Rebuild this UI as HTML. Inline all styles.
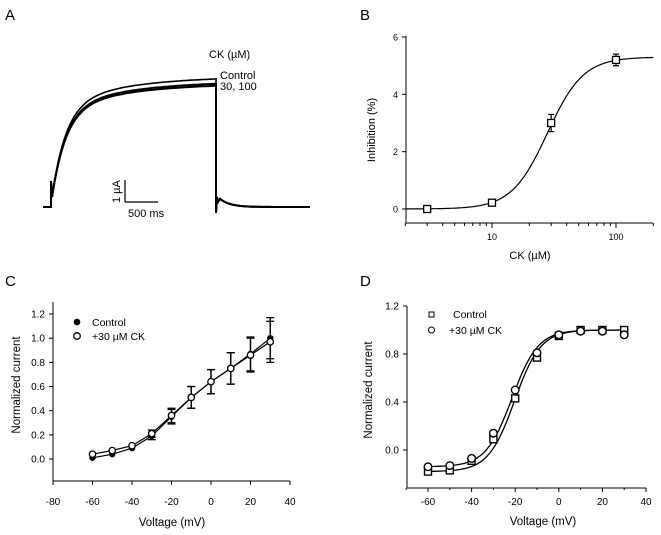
<!DOCTYPE html>
<html><head><meta charset="utf-8"><style>
html,body{margin:0;padding:0;background:#fff;}
svg{display:block;font-family:"Liberation Sans",Arial,sans-serif;}
</style></head><body>
<svg id="fig" width="661" height="535" viewBox="0 0 661 535" xmlns="http://www.w3.org/2000/svg">
<g>
<text x="5" y="20" font-size="15">A</text>
<g id="traces"></g>
<line x1="125" y1="180" x2="125" y2="202" stroke="#000" stroke-width="1.2"/>
<line x1="125" y1="202" x2="158" y2="202" stroke="#000" stroke-width="1.2"/>
<text x="0" y="0" font-size="11" transform="translate(120,203) rotate(-90)">1 µA</text>
<text x="128" y="217" font-size="11">500 ms</text>
<text x="209" y="58" font-size="11">CK (µM)</text>
<text x="220" y="79" font-size="11">Control</text>
<text x="220" y="90" font-size="11">30, 100</text>
</g>
<g id="pb">
<text x="360" y="20" font-size="15">B</text>
</g>
<g id="pc">
<text x="5" y="286" font-size="15">C</text>
</g>
<g id="pd">
<text x="360" y="286" font-size="15">D</text>
</g>
</svg>
<script>
// ---- Panel B data ----
const bConc = [3, 10, 30, 100];
const bInhib = [0.0, 0.22, 3.0, 5.2];
const bErr = [0.05, 0.05, 0.3, 0.2];
const bYTicks = [0, 2, 4, 6];
const bXTicks = [10, 100];
const bFit = {max: 5.3, ic50: 28, n: 3};
// ---- Panel C data ----
const cVolt = [-60, -50, -40, -30, -20, -10, 0, 10, 20, 30];
const cControl = [0.01, 0.04, 0.09, 0.19, 0.35, 0.51, 0.64, 0.75, 0.87, 1.00];
const cCK = [0.04, 0.07, 0.11, 0.21, 0.36, 0.51, 0.64, 0.75, 0.86, 0.97];
const cErr = [0.01, 0.01, 0.01, 0.03, 0.06, 0.09, 0.10, 0.13, 0.14, 0.17];
const cXTicks = [-80, -60, -40, -20, 0, 20, 40];
const cYTicks = [0.0, 0.2, 0.4, 0.6, 0.8, 1.0, 1.2];
// ---- Panel D data ----
const dVolt = [-60, -50, -40, -30, -20, -10, 0, 10, 20, 30];
const dControl = [-0.18, -0.17, -0.09, 0.09, 0.43, 0.77, 0.95, 1.00, 1.00, 1.00];
const dCK = [-0.14, -0.13, -0.07, 0.14, 0.50, 0.81, 0.96, 0.99, 0.99, 0.96];
const dXTicks = [-60, -40, -20, 0, 20, 40];
const dYTicks = [0.0, 0.4, 0.8, 1.2];
const dFitControl = {bottom: -0.18, top: 1.0, v50: -20.3, k: 6};
const dFitCK = {bottom: -0.14, top: 1.0, v50: -21.5, k: 6};

const NS = "http://www.w3.org/2000/svg";
function mk(parent, tag, attrs, text){
  const e = document.createElementNS(NS, tag);
  for (const k in attrs) e.setAttribute(k, attrs[k]);
  if (text !== undefined) e.textContent = text;
  parent.appendChild(e);
  return e;
}

// ---- Panel A traces ----
(function(){
  const g = document.getElementById('traces');
  function trace(amp, w){
    let d = "M43,207 L51,207 L51,181 L52,197";
    for (let x = 52; x <= 216; x += 2){
      const t = x - 52;
      const f = 0.75*(1-Math.exp(-t/14)) + 0.25*(1-Math.exp(-t/70));
      d += " L" + x + "," + (197 - amp*f).toFixed(1);
    }
    d += " L216,213 L217,197";
    for (let x = 218; x <= 310; x += 2){
      const t = x - 218;
      const y = 207 - 10*Math.exp(-t/10)*Math.min(1,(t+2)/4);
      d += " L" + x + "," + y.toFixed(1);
    }
    const p = mk(g, 'path', {d: d, fill: 'none', stroke: '#000', 'stroke-width': w});
    
    
  }
  trace(114, 2);
  trace(116, 2);
  trace(121, 1.6);
})();

// ---- Panel B ----
(function(){
  const g = document.getElementById('pb');
  const x0 = 406, x1 = 653, yTop = 36, yAx = 223;
  const xs = v => 492 + (Math.log10(v) - 1) * 124;
  const ys = v => 209 - v * 28.67;
  mk(g, 'line', {x1: x0, y1: yTop, x2: x0, y2: yAx, stroke: '#000', 'stroke-width': 1});
  mk(g, 'line', {x1: x0, y1: yAx, x2: x1, y2: yAx, stroke: '#000', 'stroke-width': 1});
  bYTicks.forEach(v => {
    mk(g, 'line', {x1: x0-4, y1: ys(v), x2: x0, y2: ys(v), stroke: '#000'});
    const t = mk(g, 'text', {x: x0-8, y: ys(v)+3.5, 'font-size': 9, 'text-anchor': 'end'}, String(v));
    
    
  });
  for (let dec = 1; dec <= 100; dec *= 10){
    for (let m = 1; m <= 9; m++){
      const v = dec*m; if (v < 2 || v > 200) continue;
      const major = (m === 1);
      mk(g, 'line', {x1: xs(v), y1: yAx, x2: xs(v), y2: yAx + (major?5:3), stroke: '#000'});
    }
  }
  bXTicks.forEach(v => {
    const t = mk(g, 'text', {x: xs(v), y: yAx+17, 'font-size': 9, 'text-anchor': 'middle'}, String(v));
    
    
  });
  const xl = mk(g, 'text', {x: 530, y: 259, 'font-size': 11, 'text-anchor': 'middle'}, 'CK (µM)');
  
  
  const yl = mk(g, 'text', {x: 0, y: 0, 'font-size': 11, 'text-anchor': 'middle', transform: 'translate(375,130) rotate(-90)'}, 'Inhibition (%)');
  
  
  let d = "";
  for (let lx = Math.log10(2); lx <= Math.log10(200); lx += 0.01){
    const c = Math.pow(10, lx);
    const v = bFit.max / (1 + Math.pow(bFit.ic50 / c, bFit.n));
    d += (d ? " L" : "M") + xs(c).toFixed(1) + "," + ys(v).toFixed(1);
  }
  const fit = mk(g, 'path', {d: d, fill: 'none', stroke: '#000', 'stroke-width': 1.2});
  
  
  bConc.forEach((c, i) => {
    const x = xs(c), y = ys(bInhib[i]), e = bErr[i]*28.67;
    mk(g, 'line', {x1: x, y1: y-e, x2: x, y2: y+e, stroke: '#000', 'stroke-width': 1.2});
    mk(g, 'line', {x1: x-3, y1: y-e, x2: x+3, y2: y-e, stroke: '#000', 'stroke-width': 1.2});
    mk(g, 'line', {x1: x-3, y1: y+e, x2: x+3, y2: y+e, stroke: '#000', 'stroke-width': 1.2});
    const r = mk(g, 'rect', {x: x-3.5, y: y-3.5, width: 7, height: 7, fill: '#fff', stroke: '#000', 'stroke-width': 1.3});
    
    
  });
})();

// ---- Panel C ----
(function(){
  const g = document.getElementById('pc');
  const x0 = 53, x1 = 290, yTop = 302, yAx = 481;
  const xs = v => 53 + (v + 80) * 1.975;
  const ys = v => 459 - v * 120.8;
  mk(g, 'line', {x1: x0, y1: yTop, x2: x0, y2: yAx, stroke: '#000'});
  mk(g, 'line', {x1: x0, y1: yAx, x2: x1, y2: yAx, stroke: '#000'});
  cYTicks.forEach(v => {
    mk(g, 'line', {x1: x0-4, y1: ys(v), x2: x0, y2: ys(v), stroke: '#000'});
    const t = mk(g, 'text', {x: x0-8, y: ys(v)+3.5, 'font-size': 10, 'text-anchor': 'end'}, v.toFixed(1));
    
    
  });
  cXTicks.forEach(v => {
    mk(g, 'line', {x1: xs(v), y1: yAx, x2: xs(v), y2: yAx+4, stroke: '#000'});
    const t = mk(g, 'text', {x: xs(v), y: yAx+24, 'font-size': 10, 'text-anchor': 'middle'}, String(v));
    
    
  });
  const xl = mk(g, 'text', {x: 172, y: 526, 'font-size': 11.5, 'text-anchor': 'middle'}, 'Voltage (mV)');
  
  
  const yl = mk(g, 'text', {x: 0, y: 0, 'font-size': 11.5, 'text-anchor': 'middle', transform: 'translate(20,385) rotate(-90)'}, 'Normalized current');
  
  
  [cControl, cCK].forEach((ser, si) => {
    const d = ser.map((v, i) => (i ? "L" : "M") + xs(cVolt[i]).toFixed(1) + "," + ys(v).toFixed(1)).join(" ");
    const l = mk(g, 'path', {d: d, fill: 'none', stroke: '#000', 'stroke-width': 1.2});
    
    
  });
  cVolt.forEach((vv, i) => {
    const x = xs(vv);
    [cControl[i], cCK[i]].forEach(v => {
      const y = ys(v), e = cErr[i]*120.8;
      if (e > 2){
        mk(g, 'line', {x1: x, y1: y-e, x2: x, y2: y+e, stroke: '#000', 'stroke-width': 1.3});
        mk(g, 'line', {x1: x-4, y1: y-e, x2: x+4, y2: y-e, stroke: '#000', 'stroke-width': 1.3});
        mk(g, 'line', {x1: x-4, y1: y+e, x2: x+4, y2: y+e, stroke: '#000', 'stroke-width': 1.3});
      }
    });
  });
  cVolt.forEach((vv, i) => {
    const a = mk(g, 'circle', {cx: xs(vv), cy: ys(cControl[i]), r: 3.2, fill: '#000'});
    
    
    const b = mk(g, 'circle', {cx: xs(vv), cy: ys(cCK[i]), r: 3.2, fill: '#fff', stroke: '#000', 'stroke-width': 1.3});
    
    
  });
  const l1 = mk(g, 'circle', {cx: 77, cy: 322, r: 3.3, fill: '#000'});
  
  
  const t1 = mk(g, 'text', {x: 92, y: 326, 'font-size': 10.5}, 'Control');
  
  
  const l2 = mk(g, 'circle', {cx: 77, cy: 336, r: 3.3, fill: '#fff', stroke: '#000', 'stroke-width': 1.3});
  
  
  const t2 = mk(g, 'text', {x: 92, y: 340, 'font-size': 10.5}, '+30 µM CK');
  
  
})();

// ---- Panel D ----
(function(){
  const g = document.getElementById('pd');
  const x0 = 407, x1 = 646, yTop = 306, yAx = 488;
  const xs = v => 428 + (v + 60) * 2.18;
  const ys = v => 450 - v * 120;
  mk(g, 'line', {x1: x0, y1: yTop, x2: x0, y2: yAx, stroke: '#000'});
  mk(g, 'line', {x1: x0, y1: yAx, x2: x1, y2: yAx, stroke: '#000'});
  dYTicks.forEach(v => {
    mk(g, 'line', {x1: x0-4, y1: ys(v), x2: x0, y2: ys(v), stroke: '#000'});
    const t = mk(g, 'text', {x: x0-8, y: ys(v)+3.5, 'font-size': 10, 'text-anchor': 'end'}, v.toFixed(1));
    
    
  });
  for (let v = -70; v <= 40; v += 10){
    const major = dXTicks.indexOf(v) >= 0;
    mk(g, 'line', {x1: xs(v), y1: yAx, x2: xs(v), y2: yAx + (major?4:2), stroke: '#000'});
  }
  dXTicks.forEach(v => {
    const t = mk(g, 'text', {x: xs(v), y: yAx+17, 'font-size': 10, 'text-anchor': 'middle'}, String(v));
    
    
  });
  const xl = mk(g, 'text', {x: 543, y: 525, 'font-size': 11.5, 'text-anchor': 'middle'}, 'Voltage (mV)');
  
  
  const yl = mk(g, 'text', {x: 0, y: 0, 'font-size': 11.5, 'text-anchor': 'middle', transform: 'translate(372,390) rotate(-90)'}, 'Normalized current');
  
  
  [dFitControl, dFitCK].forEach((p, si) => {
    let d = "";
    for (let v = -60; v <= 30.01; v += 0.5){
      const y = p.bottom + (p.top - p.bottom) / (1 + Math.exp((p.v50 - v) / p.k));
      d += (d ? " L" : "M") + xs(v).toFixed(1) + "," + ys(y).toFixed(1);
    }
    const l = mk(g, 'path', {d: d, fill: 'none', stroke: '#000', 'stroke-width': 1.3});
    
    
  });
  dVolt.forEach((vv, i) => {
    const x = xs(vv);
    const s = mk(g, 'rect', {x: x-3.5, y: ys(dControl[i])-3.5, width: 7, height: 7, fill: '#fff', stroke: '#000', 'stroke-width': 1.4});
    
    
    const c = mk(g, 'circle', {cx: x, cy: ys(dCK[i]), r: 3.8, fill: '#fff', stroke: '#000', 'stroke-width': 1.4});
    
    
  });
  const l1 = mk(g, 'rect', {x: 429, y: 312, width: 5, height: 5, fill: '#fff', stroke: '#000', 'stroke-width': 1});
  
  
  const t1 = mk(g, 'text', {x: 453, y: 318, 'font-size': 10.5}, 'Control');
  
  
  const l2 = mk(g, 'circle', {cx: 431.5, cy: 330, r: 3, fill: '#fff', stroke: '#000', 'stroke-width': 1});
  
  
  const t2 = mk(g, 'text', {x: 449, y: 334, 'font-size': 10.5}, '+30 µM CK');
  
  
})();
</script>
</body></html>
